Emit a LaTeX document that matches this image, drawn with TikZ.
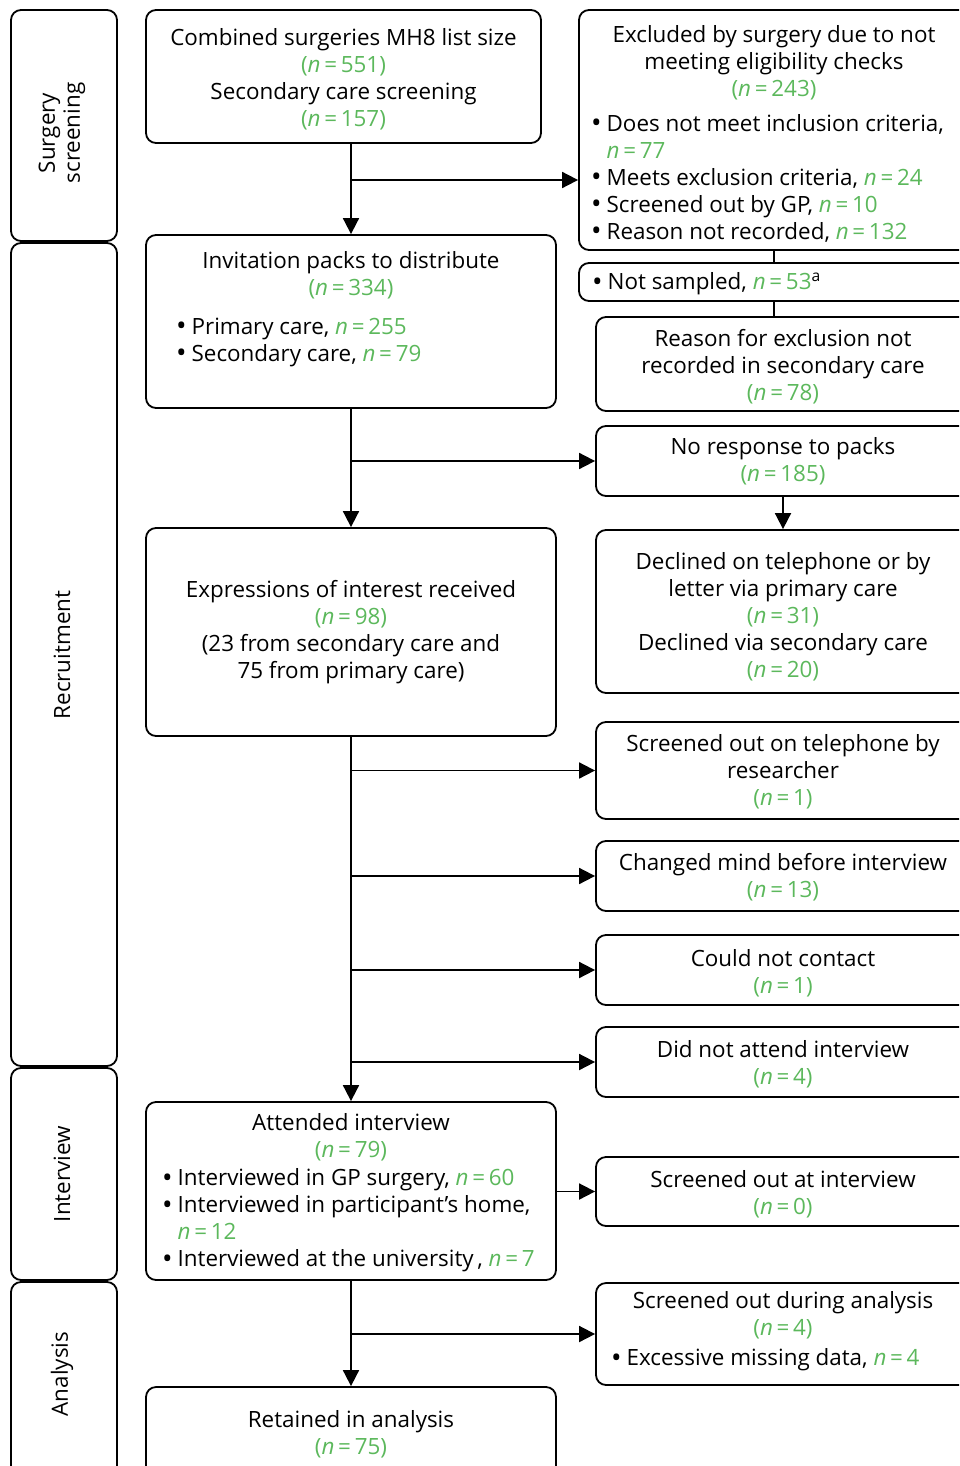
\documentclass[tikz,border=0pt]{standalone}
\usepackage{fontspec}
\setmainfont{Open Sans}
\usetikzlibrary{arrows.meta}
\definecolor{grn}{RGB}{92,184,92}
\newcommand{\nn}[1]{{\color{grn}(\textit{n}\thinspace=\thinspace#1)}}
\newcommand{\nv}[1]{{\color{grn}\textit{n}\thinspace=\thinspace#1}}
\newcommand{\bul}{\raisebox{-1.9pt}{\scalebox{1.25}{\textbullet}}\hspace{0.22em}}
\newcommand{\bulph}{\hphantom{\scalebox{1.25}{\textbullet}\hspace{0.22em}}}
\tikzset{
  box/.style={draw, line width=1.8pt, rounded corners=10pt, rectangle, inner sep=0pt},
  txt/.style={font=\fontsize{22.4}{27}\selectfont, inner sep=0pt, align=center},
  ltxt/.style={font=\fontsize{22.4}{27}\selectfont, inner sep=0pt, align=left, anchor=west},
  side/.style={font=\fontsize{22.4}{25}\selectfont, inner sep=0pt, align=center, rotate=90},
  arr/.style={line width=1.8pt, -{Triangle[length=16pt,width=16pt]}},
  ln/.style={line width=1.8pt}
}
\begin{document}
\begin{tikzpicture}[x=1pt,y=-1pt]
\useasboundingbox (0,0) rectangle (959,1466);
\clip (0,0) rectangle (959,1466);
% side column
\node[box, minimum width=106pt, minimum height=231pt] (sideS) at (64,125.5) {};
\node[box, minimum width=106pt, minimum height=823pt] (sideR) at (64,654.5) {};
\node[box, minimum width=106pt, minimum height=212pt] (sideI) at (64,1174) {};
\node[box, minimum width=106pt, minimum height=198pt] (sideA) at (64,1381) {};
\node[side] (lS) at (62,133) {Surgery\\screening};
\node[side] (lR) at (62,655) {Recruitment};
\node[side] (lI) at (62,1174) {Interview};
\node[side] (lA) at (62,1374) {Analysis};
% main column
\node[box, minimum width=395pt, minimum height=133pt] (A) at (343.5,76.5) {};
\node[box, minimum width=410pt, minimum height=173pt] (B) at (351,321.5) {};
\node[box, minimum width=410pt, minimum height=208pt] (C) at (351,632) {};
\node[box, minimum width=410pt, minimum height=178pt] (D) at (351,1191) {};
\node[box, minimum width=410pt, minimum height=103pt] (E) at (351,1438.5) {};
% right column
\node[box, minimum width=390pt, minimum height=240pt] (R1) at (774,130) {};
\node[box, minimum width=390pt, minimum height=38pt] (R2) at (774,282) {};
\node[box, minimum width=374pt, minimum height=94pt] (R3) at (783,364) {};
\node[box, minimum width=374pt, minimum height=70pt] (R4) at (783,461) {};
\node[box, minimum width=374pt, minimum height=163pt] (R5) at (783,611.5) {};
\node[box, minimum width=374pt, minimum height=97pt] (R6) at (783,770.5) {};
\node[box, minimum width=374pt, minimum height=70pt] (R7) at (783,876) {};
\node[box, minimum width=374pt, minimum height=70pt] (R8) at (783,970) {};
\node[box, minimum width=374pt, minimum height=70pt] (R9) at (783,1062) {};
\node[box, minimum width=374pt, minimum height=69pt] (R10) at (783,1191.5) {};
\node[box, minimum width=374pt, minimum height=102pt] (R11) at (783,1334) {};
\begin{scope}[yshift=-1.5pt]
\node[txt] (tA) at (343.5,78) {Combined surgeries MH8 list size\\\nn{551}\\Secondary care screening\\\nn{157}};
\node[txt] (tB) at (351,273.5) {Invitation packs to distribute\\\nn{334}};
\node[ltxt] (tB2) at (176,340.5) {\bul Primary care, \nv{255}\\\bul Secondary care, \nv{79}};
\node[txt] (tC) at (351,631) {Expressions of interest received\\\nn{98}\\(23 from secondary care and\\75 from primary care)};
\node[txt] (tD) at (351,1135.5) {Attended interview\\\nn{79}};
\node[ltxt] (tD2) at (162,1219) {\bul Interviewed in GP surgery, \nv{60}\\\bul Interviewed in participant’s home,\\\bulph\nv{12}\\\bul Interviewed at the university\,, \nv{7}};
\node[txt] (tE) at (351,1432.5) {Retained in analysis\\\nn{75}};
\node[txt] (t1) at (774,61.7) {Excluded by surgery due to not\\meeting eligibility checks\\\nn{243}};
\node[ltxt] (t1b) at (591,176.5) {\bul Does not meet inclusion criteria,\\\bulph\nv{77}\\\bul Meets exclusion criteria, \nv{24}\\\bul Screened out by GP, \nv{10}\\\bul Reason not recorded, \nv{132}};
\node[ltxt] (t2) at (592,282) {\bul Not sampled, \nv{53}\textsuperscript{a}};
\node[txt] (t3) at (783,364.7) {Reason for exclusion not\\recorded in secondary care\\\nn{78}};
\node[txt] (t4) at (783,459.5) {No response to packs\\\nn{185}};
\node[txt] (t5) at (783,615.5) {Declined on telephone or by\\letter via primary care\\\nn{31}\\Declined via secondary care\\\nn{20}};
\node[txt] (t6) at (783,770.5) {Screened out on telephone by\\researcher\\\nn{1}};
\node[txt] (t7) at (783,875.5) {Changed mind before interview\\\nn{13}};
\node[txt] (t8) at (783,971.5) {Could not contact\\\nn{1}};
\node[txt] (t9) at (783,1062.5) {Did not attend interview\\\nn{4}};
\node[txt] (t10) at (783,1192.5) {Screened out at interview\\\nn{0}};
\node[txt] (t11) at (783,1313.5) {Screened out during analysis\\\nn{4}};
\node[ltxt] (t11b) at (611,1358) {\bul Excessive missing data, \nv{4}};
\end{scope}
% connectors
\coordinate (j1) at (351,180);
\draw[arr] (A.south -| B.north) -- (B.north);
\draw[arr] (j1) -- (j1 -| R1.west);
\draw[ln] (R1.south) -- (R2.north);
\draw[ln] (R2.south) -- (R2.south |- R3.north);
\draw[arr] (B.south) -- (C.north);
\draw[arr] (B.south |- R4.west) -- (R4.west);
\draw[arr] (R4.south) -- (R5.north);
\draw[arr] (C.south) -- (D.north);
\draw[arr] (C.south |- R6.west) -- (R6.west);
\draw[arr] (C.south |- R7.west) -- (R7.west);
\draw[arr] (C.south |- R8.west) -- (R8.west);
\draw[arr] (C.south |- R9.west) -- (R9.west);
\draw[arr] (D.east |- R10.west) -- (R10.west);
\draw[arr] (D.south) -- (E.north);
\draw[arr] (D.south |- R11.west) -- (R11.west);
\end{tikzpicture}
\end{document}
